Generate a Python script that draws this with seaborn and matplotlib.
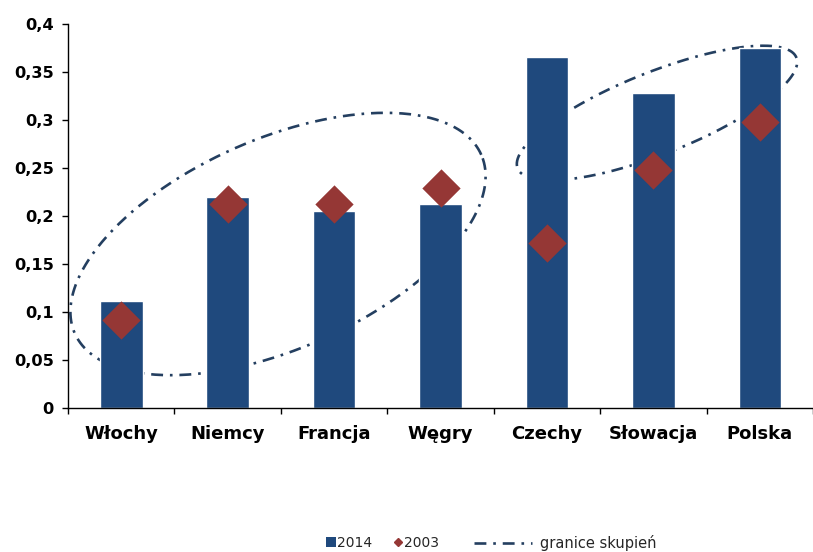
import numpy as np
import matplotlib
matplotlib.use("Agg")
import matplotlib.pyplot as plt
from matplotlib.lines import Line2D
from matplotlib.patches import Patch
from matplotlib.ticker import FuncFormatter, FixedLocator
import seaborn as sns

countries = ["Włochy", "Niemcy", "Francja", "Węgry", "Czechy", "Słowacja", "Polska"]
values_2014 = [0.111, 0.220, 0.205, 0.212, 0.366, 0.328, 0.375]
values_2003 = [0.092, 0.213, 0.213, 0.229, 0.172, 0.248, 0.298]
y_ticks = [0, 0.05, 0.1, 0.15, 0.2, 0.25, 0.3, 0.35, 0.4]

BAR = "#1F497D"
DIAMOND = "#953735"
CLUSTER = "#243F60"

sns.set_theme(style="white")
plt.rcParams["font.family"] = ["DejaVu Sans"]

W, H = 813, 552
fig = plt.figure(figsize=(W / 100, H / 100), dpi=100)
ax = fig.add_axes([68 / W, 1 - 408 / H, 1 - 68 / W, (408 - 24) / H])

sns.barplot(x=countries, y=values_2014, color=BAR, width=0.4,
            saturation=1, ax=ax, zorder=2)
sns.stripplot(x=countries, y=values_2003, jitter=False, marker="D",
              size=19.5, color=DIAMOND, linewidth=0, ax=ax, zorder=3)

ax.set_xlim(-0.5, 6.416)
ax.set_ylim(0, 0.4)
ax.yaxis.set_major_locator(FixedLocator(y_ticks))
ax.yaxis.set_major_formatter(FuncFormatter(lambda v, _: f"{v:g}".replace(".", ",")))

for side in ("top", "right"):
    ax.spines[side].set_visible(False)
for side in ("left", "bottom"):
    ax.spines[side].set_color("black")
    ax.spines[side].set_linewidth(1.0)

ax.tick_params(axis="y", which="major", left=True, length=4.3, width=1,
               color="black", pad=6, labelsize=11.7, labelcolor="black")
ax.tick_params(axis="x", which="major", bottom=False, length=0, pad=12,
               labelsize=13, labelcolor="black")
ax.set_xticks(np.arange(-0.5, 7.0, 1.0), minor=True)
ax.tick_params(axis="x", which="minor", bottom=True, length=4.5, width=1,
               color="black")
for lbl in ax.get_xticklabels() + ax.get_yticklabels():
    lbl.set_fontweight("bold")
ax.set_xlabel("")
ax.set_ylabel("")


def cluster_outline(cx, cy, a, b, angle_deg, n=400):
    """Rotated ellipse outline in pixel coordinates (y grows downward)."""
    t = np.linspace(0, 2 * np.pi, n)
    th = np.deg2rad(angle_deg)
    x = a * np.cos(t) * np.cos(th) - b * np.sin(t) * np.sin(th)
    y = a * np.cos(t) * np.sin(th) + b * np.sin(t) * np.cos(th)
    return (cx + x) / W, 1 - (cy - y) / H


dash = (0, (4.5, 2.6, 1.0, 2.6))
for cx, cy, a, b, ang in [(278, 244, 222, 105, 23.7), (657, 113, 150, 41, 21.7)]:
    xs, ys = cluster_outline(cx, cy, a, b, ang)
    ax.plot(xs, ys, transform=fig.transFigure, color=CLUSTER, lw=1.9,
            linestyle=dash, zorder=1, clip_on=False)

handles_a = [Patch(facecolor=BAR, edgecolor="none", label="2014"),
             Line2D([], [], marker="D", linestyle="none", color=DIAMOND,
                    markersize=3.6, label="2003")]
leg1 = fig.legend(handles=handles_a, loc="center left",
                  bbox_to_anchor=(326 / W, 1 - 543 / H), ncol=2, frameon=False,
                  fontsize=10, handlelength=0.7, handleheight=0.7,
                  handletextpad=0.1, columnspacing=1.5, borderaxespad=0,
                  borderpad=0)
line_handle = Line2D([], [], color=CLUSTER, lw=1.9, linestyle=dash,
                     label="granice skupień")
leg2 = fig.legend(handles=[line_handle], loc="center left",
                  bbox_to_anchor=(474 / W, 1 - 543 / H), frameon=False,
                  fontsize=10.5, handlelength=4.0, handletextpad=0.5,
                  borderaxespad=0, borderpad=0)

fig.savefig("out.png", dpi=100, facecolor="white")
